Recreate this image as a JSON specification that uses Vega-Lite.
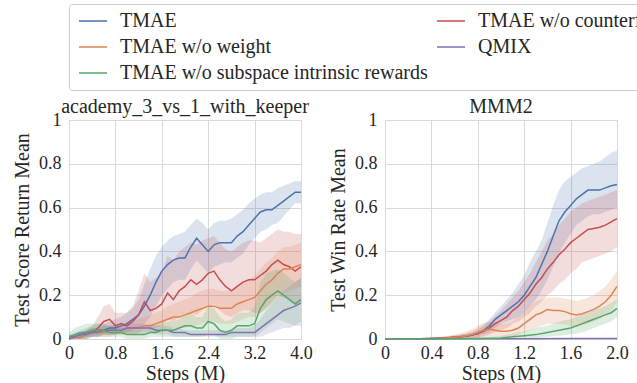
{
  "$schema": "https://vega.github.io/schema/vega-lite/v6.json",
  "padding": {"left": 12, "top": 3, "right": 2, "bottom": 2},
  "background": "white",
  "bounds": "flush",
  "spacing": 84,
  "config": {
    "font": "Liberation Serif",
    "view": {"stroke": "#cccccc", "strokeWidth": 1},
    "axis": {"grid": true, "gridColor": "#d9d9d9", "gridWidth": 1, "domain": false, "ticks": false, "labelFont": "Liberation Serif", "labelFontSize": 18, "labelColor": "#262626", "titleFont": "Liberation Serif", "titleFontSize": 20, "titleFontWeight": "normal", "titleColor": "#262626", "labelFlush": false, "labelOverlap": false},
    "axisX": {"labelPadding": 5, "titlePadding": 1},
    "axisY": {"labelPadding": 8, "titlePadding": 6},
    "title": {"font": "Liberation Serif", "fontSize": 20, "fontWeight": "normal", "color": "#262626", "offset": -6}
  },
  "datasets": {
    "A": [
      {"m":"TMAE","x":0.0,"y":0.01,"lo":0.00,"hi":0.02},
      {"m":"TMAE","x":0.1,"y":0.01,"lo":0.00,"hi":0.03},
      {"m":"TMAE","x":0.2,"y":0.02,"lo":0.00,"hi":0.04},
      {"m":"TMAE","x":0.3,"y":0.03,"lo":0.01,"hi":0.05},
      {"m":"TMAE","x":0.4,"y":0.03,"lo":0.01,"hi":0.06},
      {"m":"TMAE","x":0.5,"y":0.04,"lo":0.01,"hi":0.07},
      {"m":"TMAE","x":0.6,"y":0.04,"lo":0.02,"hi":0.07},
      {"m":"TMAE","x":0.7,"y":0.05,"lo":0.02,"hi":0.08},
      {"m":"TMAE","x":0.8,"y":0.05,"lo":0.02,"hi":0.09},
      {"m":"TMAE","x":0.9,"y":0.06,"lo":0.03,"hi":0.10},
      {"m":"TMAE","x":1.0,"y":0.07,"lo":0.03,"hi":0.12},
      {"m":"TMAE","x":1.1,"y":0.09,"lo":0.04,"hi":0.14},
      {"m":"TMAE","x":1.2,"y":0.11,"lo":0.05,"hi":0.18},
      {"m":"TMAE","x":1.3,"y":0.15,"lo":0.07,"hi":0.25},
      {"m":"TMAE","x":1.4,"y":0.20,"lo":0.10,"hi":0.32},
      {"m":"TMAE","x":1.5,"y":0.26,"lo":0.15,"hi":0.38},
      {"m":"TMAE","x":1.6,"y":0.31,"lo":0.20,"hi":0.42},
      {"m":"TMAE","x":1.7,"y":0.34,"lo":0.23,"hi":0.45},
      {"m":"TMAE","x":1.8,"y":0.36,"lo":0.26,"hi":0.47},
      {"m":"TMAE","x":1.9,"y":0.37,"lo":0.27,"hi":0.48},
      {"m":"TMAE","x":2.0,"y":0.37,"lo":0.27,"hi":0.49},
      {"m":"TMAE","x":2.1,"y":0.42,"lo":0.32,"hi":0.52},
      {"m":"TMAE","x":2.2,"y":0.46,"lo":0.36,"hi":0.55},
      {"m":"TMAE","x":2.3,"y":0.43,"lo":0.33,"hi":0.53},
      {"m":"TMAE","x":2.4,"y":0.40,"lo":0.30,"hi":0.50},
      {"m":"TMAE","x":2.5,"y":0.43,"lo":0.33,"hi":0.53},
      {"m":"TMAE","x":2.6,"y":0.44,"lo":0.34,"hi":0.54},
      {"m":"TMAE","x":2.7,"y":0.44,"lo":0.35,"hi":0.54},
      {"m":"TMAE","x":2.8,"y":0.44,"lo":0.35,"hi":0.55},
      {"m":"TMAE","x":2.9,"y":0.47,"lo":0.37,"hi":0.57},
      {"m":"TMAE","x":3.0,"y":0.49,"lo":0.39,"hi":0.59},
      {"m":"TMAE","x":3.1,"y":0.52,"lo":0.43,"hi":0.62},
      {"m":"TMAE","x":3.2,"y":0.55,"lo":0.46,"hi":0.64},
      {"m":"TMAE","x":3.3,"y":0.58,"lo":0.49,"hi":0.66},
      {"m":"TMAE","x":3.4,"y":0.59,"lo":0.50,"hi":0.67},
      {"m":"TMAE","x":3.5,"y":0.59,"lo":0.52,"hi":0.67},
      {"m":"TMAE","x":3.6,"y":0.61,"lo":0.53,"hi":0.69},
      {"m":"TMAE","x":3.7,"y":0.63,"lo":0.56,"hi":0.70},
      {"m":"TMAE","x":3.8,"y":0.65,"lo":0.59,"hi":0.71},
      {"m":"TMAE","x":3.9,"y":0.67,"lo":0.62,"hi":0.72},
      {"m":"TMAE","x":4.0,"y":0.67,"lo":0.62,"hi":0.72},
      {"m":"TMAE w/o counterfactual","x":0.0,"y":0.00,"lo":0.00,"hi":0.01},
      {"m":"TMAE w/o counterfactual","x":0.1,"y":0.01,"lo":0.00,"hi":0.02},
      {"m":"TMAE w/o counterfactual","x":0.2,"y":0.01,"lo":0.00,"hi":0.03},
      {"m":"TMAE w/o counterfactual","x":0.3,"y":0.02,"lo":0.00,"hi":0.04},
      {"m":"TMAE w/o counterfactual","x":0.4,"y":0.03,"lo":0.01,"hi":0.06},
      {"m":"TMAE w/o counterfactual","x":0.5,"y":0.05,"lo":0.01,"hi":0.10},
      {"m":"TMAE w/o counterfactual","x":0.6,"y":0.08,"lo":0.02,"hi":0.15},
      {"m":"TMAE w/o counterfactual","x":0.7,"y":0.09,"lo":0.02,"hi":0.16},
      {"m":"TMAE w/o counterfactual","x":0.8,"y":0.06,"lo":0.02,"hi":0.12},
      {"m":"TMAE w/o counterfactual","x":0.9,"y":0.07,"lo":0.02,"hi":0.12},
      {"m":"TMAE w/o counterfactual","x":1.0,"y":0.06,"lo":0.02,"hi":0.12},
      {"m":"TMAE w/o counterfactual","x":1.1,"y":0.08,"lo":0.02,"hi":0.15},
      {"m":"TMAE w/o counterfactual","x":1.2,"y":0.11,"lo":0.03,"hi":0.22},
      {"m":"TMAE w/o counterfactual","x":1.3,"y":0.17,"lo":0.05,"hi":0.30},
      {"m":"TMAE w/o counterfactual","x":1.4,"y":0.13,"lo":0.04,"hi":0.26},
      {"m":"TMAE w/o counterfactual","x":1.5,"y":0.14,"lo":0.05,"hi":0.28},
      {"m":"TMAE w/o counterfactual","x":1.6,"y":0.16,"lo":0.06,"hi":0.30},
      {"m":"TMAE w/o counterfactual","x":1.7,"y":0.21,"lo":0.09,"hi":0.38},
      {"m":"TMAE w/o counterfactual","x":1.8,"y":0.18,"lo":0.08,"hi":0.36},
      {"m":"TMAE w/o counterfactual","x":1.9,"y":0.22,"lo":0.10,"hi":0.40},
      {"m":"TMAE w/o counterfactual","x":2.0,"y":0.24,"lo":0.11,"hi":0.42},
      {"m":"TMAE w/o counterfactual","x":2.1,"y":0.27,"lo":0.12,"hi":0.44},
      {"m":"TMAE w/o counterfactual","x":2.2,"y":0.25,"lo":0.11,"hi":0.43},
      {"m":"TMAE w/o counterfactual","x":2.3,"y":0.27,"lo":0.13,"hi":0.45},
      {"m":"TMAE w/o counterfactual","x":2.4,"y":0.30,"lo":0.15,"hi":0.46},
      {"m":"TMAE w/o counterfactual","x":2.5,"y":0.31,"lo":0.16,"hi":0.47},
      {"m":"TMAE w/o counterfactual","x":2.6,"y":0.27,"lo":0.13,"hi":0.44},
      {"m":"TMAE w/o counterfactual","x":2.7,"y":0.24,"lo":0.11,"hi":0.41},
      {"m":"TMAE w/o counterfactual","x":2.8,"y":0.22,"lo":0.10,"hi":0.40},
      {"m":"TMAE w/o counterfactual","x":2.9,"y":0.24,"lo":0.12,"hi":0.42},
      {"m":"TMAE w/o counterfactual","x":3.0,"y":0.26,"lo":0.13,"hi":0.44},
      {"m":"TMAE w/o counterfactual","x":3.1,"y":0.27,"lo":0.13,"hi":0.45},
      {"m":"TMAE w/o counterfactual","x":3.2,"y":0.27,"lo":0.12,"hi":0.45},
      {"m":"TMAE w/o counterfactual","x":3.3,"y":0.29,"lo":0.12,"hi":0.44},
      {"m":"TMAE w/o counterfactual","x":3.4,"y":0.31,"lo":0.14,"hi":0.46},
      {"m":"TMAE w/o counterfactual","x":3.5,"y":0.34,"lo":0.17,"hi":0.48},
      {"m":"TMAE w/o counterfactual","x":3.6,"y":0.36,"lo":0.20,"hi":0.50},
      {"m":"TMAE w/o counterfactual","x":3.7,"y":0.34,"lo":0.19,"hi":0.49},
      {"m":"TMAE w/o counterfactual","x":3.8,"y":0.33,"lo":0.18,"hi":0.49},
      {"m":"TMAE w/o counterfactual","x":3.9,"y":0.31,"lo":0.16,"hi":0.48},
      {"m":"TMAE w/o counterfactual","x":4.0,"y":0.33,"lo":0.17,"hi":0.48},
      {"m":"TMAE w/o weight","x":0.0,"y":0.00,"lo":0.00,"hi":0.01},
      {"m":"TMAE w/o weight","x":0.1,"y":0.01,"lo":0.00,"hi":0.02},
      {"m":"TMAE w/o weight","x":0.2,"y":0.01,"lo":0.00,"hi":0.03},
      {"m":"TMAE w/o weight","x":0.3,"y":0.02,"lo":0.00,"hi":0.04},
      {"m":"TMAE w/o weight","x":0.4,"y":0.03,"lo":0.01,"hi":0.05},
      {"m":"TMAE w/o weight","x":0.5,"y":0.03,"lo":0.01,"hi":0.05},
      {"m":"TMAE w/o weight","x":0.6,"y":0.03,"lo":0.01,"hi":0.06},
      {"m":"TMAE w/o weight","x":0.7,"y":0.04,"lo":0.01,"hi":0.06},
      {"m":"TMAE w/o weight","x":0.8,"y":0.04,"lo":0.02,"hi":0.07},
      {"m":"TMAE w/o weight","x":0.9,"y":0.04,"lo":0.02,"hi":0.07},
      {"m":"TMAE w/o weight","x":1.0,"y":0.05,"lo":0.02,"hi":0.08},
      {"m":"TMAE w/o weight","x":1.1,"y":0.05,"lo":0.02,"hi":0.09},
      {"m":"TMAE w/o weight","x":1.2,"y":0.05,"lo":0.02,"hi":0.09},
      {"m":"TMAE w/o weight","x":1.3,"y":0.06,"lo":0.02,"hi":0.10},
      {"m":"TMAE w/o weight","x":1.4,"y":0.06,"lo":0.03,"hi":0.11},
      {"m":"TMAE w/o weight","x":1.5,"y":0.07,"lo":0.03,"hi":0.12},
      {"m":"TMAE w/o weight","x":1.6,"y":0.08,"lo":0.03,"hi":0.13},
      {"m":"TMAE w/o weight","x":1.7,"y":0.09,"lo":0.04,"hi":0.15},
      {"m":"TMAE w/o weight","x":1.8,"y":0.10,"lo":0.05,"hi":0.16},
      {"m":"TMAE w/o weight","x":1.9,"y":0.10,"lo":0.05,"hi":0.17},
      {"m":"TMAE w/o weight","x":2.0,"y":0.11,"lo":0.05,"hi":0.18},
      {"m":"TMAE w/o weight","x":2.1,"y":0.12,"lo":0.06,"hi":0.19},
      {"m":"TMAE w/o weight","x":2.2,"y":0.13,"lo":0.06,"hi":0.21},
      {"m":"TMAE w/o weight","x":2.3,"y":0.14,"lo":0.07,"hi":0.22},
      {"m":"TMAE w/o weight","x":2.4,"y":0.15,"lo":0.08,"hi":0.23},
      {"m":"TMAE w/o weight","x":2.5,"y":0.15,"lo":0.08,"hi":0.23},
      {"m":"TMAE w/o weight","x":2.6,"y":0.14,"lo":0.07,"hi":0.22},
      {"m":"TMAE w/o weight","x":2.7,"y":0.14,"lo":0.07,"hi":0.22},
      {"m":"TMAE w/o weight","x":2.8,"y":0.14,"lo":0.07,"hi":0.22},
      {"m":"TMAE w/o weight","x":2.9,"y":0.16,"lo":0.08,"hi":0.24},
      {"m":"TMAE w/o weight","x":3.0,"y":0.17,"lo":0.09,"hi":0.26},
      {"m":"TMAE w/o weight","x":3.1,"y":0.18,"lo":0.10,"hi":0.27},
      {"m":"TMAE w/o weight","x":3.2,"y":0.19,"lo":0.10,"hi":0.29},
      {"m":"TMAE w/o weight","x":3.3,"y":0.22,"lo":0.12,"hi":0.32},
      {"m":"TMAE w/o weight","x":3.4,"y":0.25,"lo":0.14,"hi":0.35},
      {"m":"TMAE w/o weight","x":3.5,"y":0.27,"lo":0.16,"hi":0.37},
      {"m":"TMAE w/o weight","x":3.6,"y":0.30,"lo":0.19,"hi":0.40},
      {"m":"TMAE w/o weight","x":3.7,"y":0.32,"lo":0.21,"hi":0.42},
      {"m":"TMAE w/o weight","x":3.8,"y":0.32,"lo":0.22,"hi":0.42},
      {"m":"TMAE w/o weight","x":3.9,"y":0.33,"lo":0.23,"hi":0.43},
      {"m":"TMAE w/o weight","x":4.0,"y":0.34,"lo":0.24,"hi":0.44},
      {"m":"QMIX","x":0.0,"y":0.00,"lo":0.00,"hi":0.01},
      {"m":"QMIX","x":0.1,"y":0.01,"lo":0.00,"hi":0.02},
      {"m":"QMIX","x":0.2,"y":0.02,"lo":0.00,"hi":0.03},
      {"m":"QMIX","x":0.3,"y":0.02,"lo":0.01,"hi":0.04},
      {"m":"QMIX","x":0.4,"y":0.03,"lo":0.01,"hi":0.05},
      {"m":"QMIX","x":0.5,"y":0.03,"lo":0.02,"hi":0.05},
      {"m":"QMIX","x":0.6,"y":0.04,"lo":0.02,"hi":0.06},
      {"m":"QMIX","x":0.7,"y":0.04,"lo":0.02,"hi":0.06},
      {"m":"QMIX","x":0.8,"y":0.04,"lo":0.02,"hi":0.06},
      {"m":"QMIX","x":0.9,"y":0.04,"lo":0.03,"hi":0.06},
      {"m":"QMIX","x":1.0,"y":0.05,"lo":0.03,"hi":0.07},
      {"m":"QMIX","x":1.1,"y":0.05,"lo":0.03,"hi":0.07},
      {"m":"QMIX","x":1.2,"y":0.05,"lo":0.03,"hi":0.07},
      {"m":"QMIX","x":1.3,"y":0.05,"lo":0.03,"hi":0.07},
      {"m":"QMIX","x":1.4,"y":0.05,"lo":0.03,"hi":0.07},
      {"m":"QMIX","x":1.5,"y":0.04,"lo":0.02,"hi":0.06},
      {"m":"QMIX","x":1.6,"y":0.04,"lo":0.02,"hi":0.06},
      {"m":"QMIX","x":1.7,"y":0.04,"lo":0.02,"hi":0.06},
      {"m":"QMIX","x":1.8,"y":0.03,"lo":0.01,"hi":0.05},
      {"m":"QMIX","x":1.9,"y":0.03,"lo":0.01,"hi":0.05},
      {"m":"QMIX","x":2.0,"y":0.03,"lo":0.01,"hi":0.04},
      {"m":"QMIX","x":2.1,"y":0.02,"lo":0.01,"hi":0.04},
      {"m":"QMIX","x":2.2,"y":0.02,"lo":0.01,"hi":0.04},
      {"m":"QMIX","x":2.3,"y":0.02,"lo":0.01,"hi":0.04},
      {"m":"QMIX","x":2.4,"y":0.02,"lo":0.01,"hi":0.04},
      {"m":"QMIX","x":2.5,"y":0.02,"lo":0.01,"hi":0.04},
      {"m":"QMIX","x":2.6,"y":0.02,"lo":0.01,"hi":0.04},
      {"m":"QMIX","x":2.7,"y":0.02,"lo":0.01,"hi":0.04},
      {"m":"QMIX","x":2.8,"y":0.03,"lo":0.01,"hi":0.04},
      {"m":"QMIX","x":2.9,"y":0.03,"lo":0.01,"hi":0.05},
      {"m":"QMIX","x":3.0,"y":0.03,"lo":0.01,"hi":0.05},
      {"m":"QMIX","x":3.1,"y":0.03,"lo":0.01,"hi":0.05},
      {"m":"QMIX","x":3.2,"y":0.03,"lo":0.01,"hi":0.06},
      {"m":"QMIX","x":3.3,"y":0.05,"lo":0.01,"hi":0.09},
      {"m":"QMIX","x":3.4,"y":0.07,"lo":0.02,"hi":0.13},
      {"m":"QMIX","x":3.5,"y":0.09,"lo":0.03,"hi":0.16},
      {"m":"QMIX","x":3.6,"y":0.11,"lo":0.04,"hi":0.19},
      {"m":"QMIX","x":3.7,"y":0.13,"lo":0.05,"hi":0.22},
      {"m":"QMIX","x":3.8,"y":0.14,"lo":0.05,"hi":0.24},
      {"m":"QMIX","x":3.9,"y":0.15,"lo":0.06,"hi":0.26},
      {"m":"QMIX","x":4.0,"y":0.165,"lo":0.06,"hi":0.28},
      {"m":"TMAE w/o subspace intrinsic rewards","x":0.0,"y":0.01,"lo":0.00,"hi":0.03},
      {"m":"TMAE w/o subspace intrinsic rewards","x":0.1,"y":0.02,"lo":0.00,"hi":0.05},
      {"m":"TMAE w/o subspace intrinsic rewards","x":0.2,"y":0.03,"lo":0.00,"hi":0.06},
      {"m":"TMAE w/o subspace intrinsic rewards","x":0.3,"y":0.03,"lo":0.00,"hi":0.07},
      {"m":"TMAE w/o subspace intrinsic rewards","x":0.4,"y":0.04,"lo":0.01,"hi":0.07},
      {"m":"TMAE w/o subspace intrinsic rewards","x":0.5,"y":0.04,"lo":0.01,"hi":0.07},
      {"m":"TMAE w/o subspace intrinsic rewards","x":0.6,"y":0.04,"lo":0.01,"hi":0.07},
      {"m":"TMAE w/o subspace intrinsic rewards","x":0.7,"y":0.03,"lo":0.01,"hi":0.06},
      {"m":"TMAE w/o subspace intrinsic rewards","x":0.8,"y":0.03,"lo":0.01,"hi":0.06},
      {"m":"TMAE w/o subspace intrinsic rewards","x":0.9,"y":0.03,"lo":0.01,"hi":0.05},
      {"m":"TMAE w/o subspace intrinsic rewards","x":1.0,"y":0.02,"lo":0.00,"hi":0.05},
      {"m":"TMAE w/o subspace intrinsic rewards","x":1.1,"y":0.02,"lo":0.00,"hi":0.04},
      {"m":"TMAE w/o subspace intrinsic rewards","x":1.2,"y":0.02,"lo":0.00,"hi":0.04},
      {"m":"TMAE w/o subspace intrinsic rewards","x":1.3,"y":0.02,"lo":0.00,"hi":0.05},
      {"m":"TMAE w/o subspace intrinsic rewards","x":1.4,"y":0.03,"lo":0.01,"hi":0.06},
      {"m":"TMAE w/o subspace intrinsic rewards","x":1.5,"y":0.03,"lo":0.01,"hi":0.06},
      {"m":"TMAE w/o subspace intrinsic rewards","x":1.6,"y":0.04,"lo":0.01,"hi":0.07},
      {"m":"TMAE w/o subspace intrinsic rewards","x":1.7,"y":0.04,"lo":0.01,"hi":0.08},
      {"m":"TMAE w/o subspace intrinsic rewards","x":1.8,"y":0.04,"lo":0.01,"hi":0.08},
      {"m":"TMAE w/o subspace intrinsic rewards","x":1.9,"y":0.05,"lo":0.01,"hi":0.09},
      {"m":"TMAE w/o subspace intrinsic rewards","x":2.0,"y":0.06,"lo":0.01,"hi":0.11},
      {"m":"TMAE w/o subspace intrinsic rewards","x":2.1,"y":0.06,"lo":0.01,"hi":0.12},
      {"m":"TMAE w/o subspace intrinsic rewards","x":2.2,"y":0.05,"lo":0.01,"hi":0.10},
      {"m":"TMAE w/o subspace intrinsic rewards","x":2.3,"y":0.05,"lo":0.01,"hi":0.10},
      {"m":"TMAE w/o subspace intrinsic rewards","x":2.4,"y":0.08,"lo":0.02,"hi":0.15},
      {"m":"TMAE w/o subspace intrinsic rewards","x":2.5,"y":0.07,"lo":0.02,"hi":0.14},
      {"m":"TMAE w/o subspace intrinsic rewards","x":2.6,"y":0.04,"lo":0.00,"hi":0.10},
      {"m":"TMAE w/o subspace intrinsic rewards","x":2.7,"y":0.03,"lo":0.00,"hi":0.08},
      {"m":"TMAE w/o subspace intrinsic rewards","x":2.8,"y":0.04,"lo":0.00,"hi":0.09},
      {"m":"TMAE w/o subspace intrinsic rewards","x":2.9,"y":0.06,"lo":0.01,"hi":0.12},
      {"m":"TMAE w/o subspace intrinsic rewards","x":3.0,"y":0.06,"lo":0.01,"hi":0.12},
      {"m":"TMAE w/o subspace intrinsic rewards","x":3.1,"y":0.06,"lo":0.01,"hi":0.12},
      {"m":"TMAE w/o subspace intrinsic rewards","x":3.2,"y":0.07,"lo":0.01,"hi":0.15},
      {"m":"TMAE w/o subspace intrinsic rewards","x":3.3,"y":0.14,"lo":0.03,"hi":0.26},
      {"m":"TMAE w/o subspace intrinsic rewards","x":3.4,"y":0.18,"lo":0.05,"hi":0.30},
      {"m":"TMAE w/o subspace intrinsic rewards","x":3.5,"y":0.20,"lo":0.07,"hi":0.31},
      {"m":"TMAE w/o subspace intrinsic rewards","x":3.6,"y":0.22,"lo":0.09,"hi":0.32},
      {"m":"TMAE w/o subspace intrinsic rewards","x":3.7,"y":0.20,"lo":0.08,"hi":0.30},
      {"m":"TMAE w/o subspace intrinsic rewards","x":3.8,"y":0.18,"lo":0.07,"hi":0.28},
      {"m":"TMAE w/o subspace intrinsic rewards","x":3.9,"y":0.16,"lo":0.06,"hi":0.26},
      {"m":"TMAE w/o subspace intrinsic rewards","x":4.0,"y":0.18,"lo":0.08,"hi":0.28}
    ],
    "B": [
      {"m":"TMAE","x":0.0,"y":0,"lo":0,"hi":0},
      {"m":"TMAE","x":0.2,"y":0,"lo":0,"hi":0.002},
      {"m":"TMAE","x":0.3,"y":0.001,"lo":0,"hi":0.003},
      {"m":"TMAE","x":0.4,"y":0.002,"lo":0,"hi":0.005},
      {"m":"TMAE","x":0.5,"y":0.004,"lo":0,"hi":0.01},
      {"m":"TMAE","x":0.6,"y":0.008,"lo":0.002,"hi":0.015},
      {"m":"TMAE","x":0.65,"y":0.01,"lo":0.003,"hi":0.02},
      {"m":"TMAE","x":0.7,"y":0.013,"lo":0.004,"hi":0.025},
      {"m":"TMAE","x":0.75,"y":0.018,"lo":0.006,"hi":0.03},
      {"m":"TMAE","x":0.8,"y":0.025,"lo":0.01,"hi":0.04},
      {"m":"TMAE","x":0.85,"y":0.04,"lo":0.02,"hi":0.06},
      {"m":"TMAE","x":0.9,"y":0.06,"lo":0.03,"hi":0.09},
      {"m":"TMAE","x":0.95,"y":0.09,"lo":0.05,"hi":0.12},
      {"m":"TMAE","x":1.0,"y":0.11,"lo":0.07,"hi":0.15},
      {"m":"TMAE","x":1.05,"y":0.13,"lo":0.08,"hi":0.18},
      {"m":"TMAE","x":1.1,"y":0.15,"lo":0.09,"hi":0.21},
      {"m":"TMAE","x":1.15,"y":0.17,"lo":0.10,"hi":0.25},
      {"m":"TMAE","x":1.2,"y":0.20,"lo":0.12,"hi":0.29},
      {"m":"TMAE","x":1.25,"y":0.24,"lo":0.15,"hi":0.35},
      {"m":"TMAE","x":1.3,"y":0.28,"lo":0.18,"hi":0.40},
      {"m":"TMAE","x":1.35,"y":0.34,"lo":0.22,"hi":0.45},
      {"m":"TMAE","x":1.4,"y":0.40,"lo":0.27,"hi":0.53},
      {"m":"TMAE","x":1.45,"y":0.47,"lo":0.33,"hi":0.61},
      {"m":"TMAE","x":1.5,"y":0.54,"lo":0.39,"hi":0.68},
      {"m":"TMAE","x":1.55,"y":0.58,"lo":0.44,"hi":0.72},
      {"m":"TMAE","x":1.6,"y":0.61,"lo":0.48,"hi":0.74},
      {"m":"TMAE","x":1.65,"y":0.64,"lo":0.52,"hi":0.76},
      {"m":"TMAE","x":1.7,"y":0.66,"lo":0.54,"hi":0.78},
      {"m":"TMAE","x":1.75,"y":0.68,"lo":0.56,"hi":0.79},
      {"m":"TMAE","x":1.8,"y":0.68,"lo":0.57,"hi":0.80},
      {"m":"TMAE","x":1.85,"y":0.68,"lo":0.57,"hi":0.81},
      {"m":"TMAE","x":1.9,"y":0.69,"lo":0.58,"hi":0.83},
      {"m":"TMAE","x":1.95,"y":0.70,"lo":0.59,"hi":0.85},
      {"m":"TMAE","x":2.0,"y":0.705,"lo":0.60,"hi":0.86},
      {"m":"TMAE w/o counterfactual","x":0.0,"y":0,"lo":0,"hi":0},
      {"m":"TMAE w/o counterfactual","x":0.2,"y":0,"lo":0,"hi":0.002},
      {"m":"TMAE w/o counterfactual","x":0.3,"y":0.001,"lo":0,"hi":0.003},
      {"m":"TMAE w/o counterfactual","x":0.4,"y":0.002,"lo":0,"hi":0.006},
      {"m":"TMAE w/o counterfactual","x":0.5,"y":0.004,"lo":0,"hi":0.01},
      {"m":"TMAE w/o counterfactual","x":0.6,"y":0.008,"lo":0.002,"hi":0.016},
      {"m":"TMAE w/o counterfactual","x":0.65,"y":0.01,"lo":0.002,"hi":0.02},
      {"m":"TMAE w/o counterfactual","x":0.7,"y":0.012,"lo":0.003,"hi":0.025},
      {"m":"TMAE w/o counterfactual","x":0.75,"y":0.018,"lo":0.005,"hi":0.035},
      {"m":"TMAE w/o counterfactual","x":0.8,"y":0.025,"lo":0.005,"hi":0.05},
      {"m":"TMAE w/o counterfactual","x":0.85,"y":0.035,"lo":0.01,"hi":0.065},
      {"m":"TMAE w/o counterfactual","x":0.9,"y":0.05,"lo":0.02,"hi":0.08},
      {"m":"TMAE w/o counterfactual","x":0.95,"y":0.07,"lo":0.03,"hi":0.105},
      {"m":"TMAE w/o counterfactual","x":1.0,"y":0.085,"lo":0.04,"hi":0.13},
      {"m":"TMAE w/o counterfactual","x":1.05,"y":0.10,"lo":0.05,"hi":0.16},
      {"m":"TMAE w/o counterfactual","x":1.1,"y":0.13,"lo":0.07,"hi":0.19},
      {"m":"TMAE w/o counterfactual","x":1.15,"y":0.15,"lo":0.08,"hi":0.22},
      {"m":"TMAE w/o counterfactual","x":1.2,"y":0.18,"lo":0.10,"hi":0.26},
      {"m":"TMAE w/o counterfactual","x":1.25,"y":0.21,"lo":0.12,"hi":0.30},
      {"m":"TMAE w/o counterfactual","x":1.3,"y":0.25,"lo":0.15,"hi":0.35},
      {"m":"TMAE w/o counterfactual","x":1.35,"y":0.28,"lo":0.17,"hi":0.40},
      {"m":"TMAE w/o counterfactual","x":1.4,"y":0.32,"lo":0.20,"hi":0.45},
      {"m":"TMAE w/o counterfactual","x":1.45,"y":0.35,"lo":0.22,"hi":0.48},
      {"m":"TMAE w/o counterfactual","x":1.5,"y":0.385,"lo":0.25,"hi":0.52},
      {"m":"TMAE w/o counterfactual","x":1.55,"y":0.41,"lo":0.27,"hi":0.55},
      {"m":"TMAE w/o counterfactual","x":1.6,"y":0.44,"lo":0.30,"hi":0.58},
      {"m":"TMAE w/o counterfactual","x":1.65,"y":0.46,"lo":0.32,"hi":0.60},
      {"m":"TMAE w/o counterfactual","x":1.7,"y":0.48,"lo":0.35,"hi":0.62},
      {"m":"TMAE w/o counterfactual","x":1.75,"y":0.50,"lo":0.36,"hi":0.63},
      {"m":"TMAE w/o counterfactual","x":1.8,"y":0.505,"lo":0.37,"hi":0.64},
      {"m":"TMAE w/o counterfactual","x":1.85,"y":0.51,"lo":0.38,"hi":0.65},
      {"m":"TMAE w/o counterfactual","x":1.9,"y":0.52,"lo":0.39,"hi":0.66},
      {"m":"TMAE w/o counterfactual","x":1.95,"y":0.535,"lo":0.40,"hi":0.67},
      {"m":"TMAE w/o counterfactual","x":2.0,"y":0.55,"lo":0.42,"hi":0.68},
      {"m":"TMAE w/o weight","x":0.0,"y":0,"lo":0,"hi":0},
      {"m":"TMAE w/o weight","x":0.2,"y":0,"lo":0,"hi":0.002},
      {"m":"TMAE w/o weight","x":0.4,"y":0.002,"lo":0,"hi":0.006},
      {"m":"TMAE w/o weight","x":0.5,"y":0.004,"lo":0,"hi":0.01},
      {"m":"TMAE w/o weight","x":0.6,"y":0.008,"lo":0,"hi":0.02},
      {"m":"TMAE w/o weight","x":0.65,"y":0.01,"lo":0,"hi":0.025},
      {"m":"TMAE w/o weight","x":0.7,"y":0.015,"lo":0,"hi":0.035},
      {"m":"TMAE w/o weight","x":0.75,"y":0.02,"lo":0.002,"hi":0.045},
      {"m":"TMAE w/o weight","x":0.8,"y":0.03,"lo":0.005,"hi":0.06},
      {"m":"TMAE w/o weight","x":0.85,"y":0.04,"lo":0.01,"hi":0.075},
      {"m":"TMAE w/o weight","x":0.9,"y":0.045,"lo":0.01,"hi":0.08},
      {"m":"TMAE w/o weight","x":0.95,"y":0.04,"lo":0.01,"hi":0.075},
      {"m":"TMAE w/o weight","x":1.0,"y":0.035,"lo":0.01,"hi":0.07},
      {"m":"TMAE w/o weight","x":1.05,"y":0.035,"lo":0.01,"hi":0.07},
      {"m":"TMAE w/o weight","x":1.1,"y":0.04,"lo":0.01,"hi":0.08},
      {"m":"TMAE w/o weight","x":1.15,"y":0.05,"lo":0.02,"hi":0.10},
      {"m":"TMAE w/o weight","x":1.2,"y":0.07,"lo":0.03,"hi":0.12},
      {"m":"TMAE w/o weight","x":1.25,"y":0.09,"lo":0.04,"hi":0.15},
      {"m":"TMAE w/o weight","x":1.3,"y":0.11,"lo":0.05,"hi":0.17},
      {"m":"TMAE w/o weight","x":1.35,"y":0.12,"lo":0.06,"hi":0.18},
      {"m":"TMAE w/o weight","x":1.4,"y":0.135,"lo":0.07,"hi":0.19},
      {"m":"TMAE w/o weight","x":1.45,"y":0.13,"lo":0.07,"hi":0.19},
      {"m":"TMAE w/o weight","x":1.5,"y":0.13,"lo":0.07,"hi":0.19},
      {"m":"TMAE w/o weight","x":1.55,"y":0.125,"lo":0.065,"hi":0.185},
      {"m":"TMAE w/o weight","x":1.6,"y":0.115,"lo":0.06,"hi":0.18},
      {"m":"TMAE w/o weight","x":1.65,"y":0.11,"lo":0.055,"hi":0.175},
      {"m":"TMAE w/o weight","x":1.7,"y":0.115,"lo":0.06,"hi":0.18},
      {"m":"TMAE w/o weight","x":1.75,"y":0.125,"lo":0.07,"hi":0.19},
      {"m":"TMAE w/o weight","x":1.8,"y":0.135,"lo":0.08,"hi":0.20},
      {"m":"TMAE w/o weight","x":1.85,"y":0.15,"lo":0.09,"hi":0.22},
      {"m":"TMAE w/o weight","x":1.9,"y":0.17,"lo":0.11,"hi":0.24},
      {"m":"TMAE w/o weight","x":1.95,"y":0.20,"lo":0.13,"hi":0.27},
      {"m":"TMAE w/o weight","x":2.0,"y":0.24,"lo":0.17,"hi":0.31},
      {"m":"QMIX","x":0.0,"y":0,"lo":0,"hi":0.002},
      {"m":"QMIX","x":0.4,"y":0.001,"lo":0,"hi":0.003},
      {"m":"QMIX","x":0.8,"y":0.001,"lo":0,"hi":0.004},
      {"m":"QMIX","x":1.2,"y":0.001,"lo":0,"hi":0.004},
      {"m":"QMIX","x":1.6,"y":0.002,"lo":0,"hi":0.005},
      {"m":"QMIX","x":2.0,"y":0.002,"lo":0,"hi":0.005},
      {"m":"TMAE w/o subspace intrinsic rewards","x":0.0,"y":0,"lo":0,"hi":0},
      {"m":"TMAE w/o subspace intrinsic rewards","x":0.4,"y":0,"lo":0,"hi":0.001},
      {"m":"TMAE w/o subspace intrinsic rewards","x":0.8,"y":0.002,"lo":0,"hi":0.006},
      {"m":"TMAE w/o subspace intrinsic rewards","x":0.9,"y":0.003,"lo":0,"hi":0.01},
      {"m":"TMAE w/o subspace intrinsic rewards","x":1.0,"y":0.005,"lo":0,"hi":0.015},
      {"m":"TMAE w/o subspace intrinsic rewards","x":1.1,"y":0.01,"lo":0,"hi":0.025},
      {"m":"TMAE w/o subspace intrinsic rewards","x":1.2,"y":0.015,"lo":0.002,"hi":0.035},
      {"m":"TMAE w/o subspace intrinsic rewards","x":1.3,"y":0.02,"lo":0.005,"hi":0.05},
      {"m":"TMAE w/o subspace intrinsic rewards","x":1.4,"y":0.03,"lo":0.01,"hi":0.06},
      {"m":"TMAE w/o subspace intrinsic rewards","x":1.5,"y":0.04,"lo":0.015,"hi":0.08},
      {"m":"TMAE w/o subspace intrinsic rewards","x":1.6,"y":0.05,"lo":0.02,"hi":0.09},
      {"m":"TMAE w/o subspace intrinsic rewards","x":1.65,"y":0.06,"lo":0.025,"hi":0.10},
      {"m":"TMAE w/o subspace intrinsic rewards","x":1.7,"y":0.07,"lo":0.03,"hi":0.11},
      {"m":"TMAE w/o subspace intrinsic rewards","x":1.75,"y":0.08,"lo":0.04,"hi":0.12},
      {"m":"TMAE w/o subspace intrinsic rewards","x":1.8,"y":0.09,"lo":0.05,"hi":0.13},
      {"m":"TMAE w/o subspace intrinsic rewards","x":1.85,"y":0.10,"lo":0.06,"hi":0.14},
      {"m":"TMAE w/o subspace intrinsic rewards","x":1.9,"y":0.11,"lo":0.07,"hi":0.15},
      {"m":"TMAE w/o subspace intrinsic rewards","x":1.95,"y":0.12,"lo":0.08,"hi":0.165},
      {"m":"TMAE w/o subspace intrinsic rewards","x":2.0,"y":0.14,"lo":0.10,"hi":0.18}
    ]
  },
  "hconcat": [
    {
      "width": 232, "height": 219,
      "title": "academy_3_vs_1_with_keeper",
      "data": {"name": "A"},
      "encoding": {
        "x": {"field": "x", "type": "quantitative", "scale": {"domain": [0, 4], "nice": false},
              "axis": {"title": "Steps (M)", "values": [0, 0.8, 1.6, 2.4, 3.2, 4], "labelExpr": "datum.value == 0 ? '0' : format(datum.value, '.1f')"}},
        "y2": {"field": "hi"}
      },
      "layer": [
        {"transform": [{"filter": "datum.m == 'TMAE'"}], "mark": {"type": "area", "color": "#4c72b0", "opacity": 0.2},
         "encoding": {"y": {"field": "lo", "type": "quantitative", "scale": {"domain": [0, 1], "nice": false}, "axis": {"title": "Test Score Return Mean", "values": [0, 0.2, 0.4, 0.6, 0.8, 1], "labelExpr": "datum.value == 0 ? '0' : datum.value == 1 ? '1' : format(datum.value, '.1f')"}}}},
        {"transform": [{"filter": "datum.m == 'TMAE w/o counterfactual'"}], "mark": {"type": "area", "color": "#c44e52", "opacity": 0.2},
         "encoding": {"y": {"field": "lo", "type": "quantitative", "axis": {"title": "Test Score Return Mean", "values": [0, 0.2, 0.4, 0.6, 0.8, 1], "labelExpr": "datum.value == 0 ? '0' : datum.value == 1 ? '1' : format(datum.value, '.1f')"}}}},
        {"transform": [{"filter": "datum.m == 'TMAE w/o weight'"}], "mark": {"type": "area", "color": "#dd8452", "opacity": 0.2},
         "encoding": {"y": {"field": "lo", "type": "quantitative", "axis": {"title": "Test Score Return Mean", "values": [0, 0.2, 0.4, 0.6, 0.8, 1], "labelExpr": "datum.value == 0 ? '0' : datum.value == 1 ? '1' : format(datum.value, '.1f')"}}}},
        {"transform": [{"filter": "datum.m == 'QMIX'"}], "mark": {"type": "area", "color": "#8172b3", "opacity": 0.2},
         "encoding": {"y": {"field": "lo", "type": "quantitative", "axis": {"title": "Test Score Return Mean", "values": [0, 0.2, 0.4, 0.6, 0.8, 1], "labelExpr": "datum.value == 0 ? '0' : datum.value == 1 ? '1' : format(datum.value, '.1f')"}}}},
        {"transform": [{"filter": "datum.m == 'TMAE w/o subspace intrinsic rewards'"}], "mark": {"type": "area", "color": "#55a868", "opacity": 0.2},
         "encoding": {"y": {"field": "lo", "type": "quantitative", "axis": {"title": "Test Score Return Mean", "values": [0, 0.2, 0.4, 0.6, 0.8, 1], "labelExpr": "datum.value == 0 ? '0' : datum.value == 1 ? '1' : format(datum.value, '.1f')"}}}},
        {
          "mark": {"type": "line", "strokeWidth": 1.5},
          "encoding": {
            "y": {"field": "y", "type": "quantitative",
                  "axis": {"title": "Test Score Return Mean", "values": [0, 0.2, 0.4, 0.6, 0.8, 1], "labelExpr": "datum.value == 0 ? '0' : datum.value == 1 ? '1' : format(datum.value, '.1f')"}},
            "y2": null,
            "stroke": {"field": "m", "type": "nominal",
                      "scale": {"domain": ["TMAE", "TMAE w/o counterfactual", "TMAE w/o weight", "QMIX", "TMAE w/o subspace intrinsic rewards"], "range": ["#4c72b0", "#c44e52", "#dd8452", "#8172b3", "#55a868"]},
                      "legend": {"title": null, "orient": "top", "offset": 6, "columns": 2, "symbolType": "M-2,0H2", "symbolSize": 196, "symbolStrokeWidth": 1.5, "symbolOffset": 7, "labelOffset": 17, "labelFontSize": 20, "labelLimit": 400, "labelColor": "#262626", "rowPadding": 6, "columnPadding": 6, "padding": 7, "strokeColor": "#cccccc", "cornerRadius": 3}}
          }
        }
      ]
    },
    {
      "width": 232, "height": 219,
      "title": "MMM2",
      "data": {"name": "B"},
      "encoding": {
        "x": {"field": "x", "type": "quantitative", "scale": {"domain": [0, 2], "nice": false},
              "axis": {"title": "Steps (M)", "values": [0, 0.4, 0.8, 1.2, 1.6, 2], "labelExpr": "datum.value == 0 ? '0' : format(datum.value, '.1f')"}},
        "y2": {"field": "hi"}
      },
      "layer": [
        {"transform": [{"filter": "datum.m == 'TMAE'"}], "mark": {"type": "area", "color": "#4c72b0", "opacity": 0.2},
         "encoding": {"y": {"field": "lo", "type": "quantitative", "scale": {"domain": [0, 1], "nice": false}, "axis": {"title": "Test Win Rate Mean", "values": [0, 0.2, 0.4, 0.6, 0.8, 1], "labelExpr": "datum.value == 0 ? '0' : datum.value == 1 ? '1' : format(datum.value, '.1f')"}}}},
        {"transform": [{"filter": "datum.m == 'TMAE w/o counterfactual'"}], "mark": {"type": "area", "color": "#c44e52", "opacity": 0.2},
         "encoding": {"y": {"field": "lo", "type": "quantitative", "axis": {"title": "Test Win Rate Mean", "values": [0, 0.2, 0.4, 0.6, 0.8, 1], "labelExpr": "datum.value == 0 ? '0' : datum.value == 1 ? '1' : format(datum.value, '.1f')"}}}},
        {"transform": [{"filter": "datum.m == 'TMAE w/o weight'"}], "mark": {"type": "area", "color": "#dd8452", "opacity": 0.2},
         "encoding": {"y": {"field": "lo", "type": "quantitative", "axis": {"title": "Test Win Rate Mean", "values": [0, 0.2, 0.4, 0.6, 0.8, 1], "labelExpr": "datum.value == 0 ? '0' : datum.value == 1 ? '1' : format(datum.value, '.1f')"}}}},
        {"transform": [{"filter": "datum.m == 'QMIX'"}], "mark": {"type": "area", "color": "#8172b3", "opacity": 0.2},
         "encoding": {"y": {"field": "lo", "type": "quantitative", "axis": {"title": "Test Win Rate Mean", "values": [0, 0.2, 0.4, 0.6, 0.8, 1], "labelExpr": "datum.value == 0 ? '0' : datum.value == 1 ? '1' : format(datum.value, '.1f')"}}}},
        {"transform": [{"filter": "datum.m == 'TMAE w/o subspace intrinsic rewards'"}], "mark": {"type": "area", "color": "#55a868", "opacity": 0.2},
         "encoding": {"y": {"field": "lo", "type": "quantitative", "axis": {"title": "Test Win Rate Mean", "values": [0, 0.2, 0.4, 0.6, 0.8, 1], "labelExpr": "datum.value == 0 ? '0' : datum.value == 1 ? '1' : format(datum.value, '.1f')"}}}},
        {
          "mark": {"type": "line", "strokeWidth": 1.5},
          "encoding": {
            "y": {"field": "y", "type": "quantitative",
                  "axis": {"title": "Test Win Rate Mean", "values": [0, 0.2, 0.4, 0.6, 0.8, 1], "labelExpr": "datum.value == 0 ? '0' : datum.value == 1 ? '1' : format(datum.value, '.1f')"}},
            "y2": null,
            "stroke": {"field": "m", "type": "nominal",
                      "scale": {"domain": ["TMAE", "TMAE w/o counterfactual", "TMAE w/o weight", "QMIX", "TMAE w/o subspace intrinsic rewards"], "range": ["#4c72b0", "#c44e52", "#dd8452", "#8172b3", "#55a868"]},
                      "legend": {"title": null, "orient": "top", "offset": 6, "columns": 2, "symbolType": "M-2,0H2", "symbolSize": 196, "symbolStrokeWidth": 1.5, "symbolOffset": 7, "labelOffset": 17, "labelFontSize": 20, "labelLimit": 400, "labelColor": "#262626", "rowPadding": 6, "columnPadding": 6, "padding": 7, "strokeColor": "#cccccc", "cornerRadius": 3}}
          }
        }
      ]
    }
  ]
}
